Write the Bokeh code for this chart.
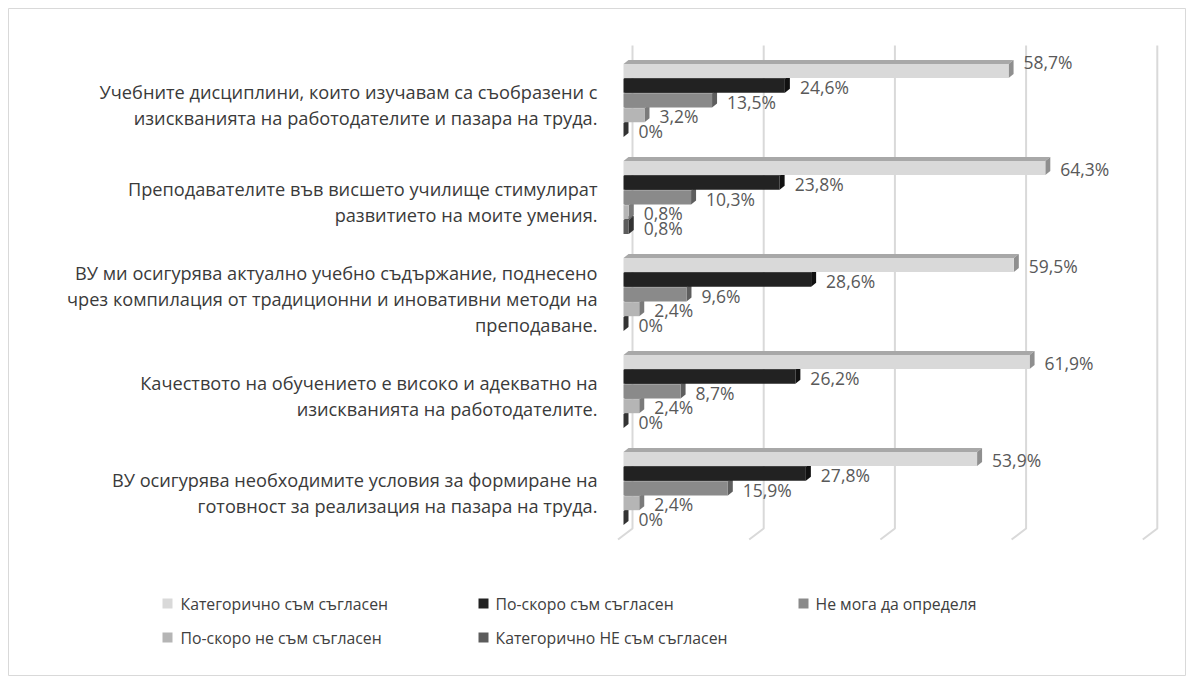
from bokeh.plotting import figure
from bokeh.models import Range1d
from bokeh.embed import file_html
from bokeh.resources import INLINE
from bokeh.core.properties import value

# ---------------- data ----------------
categories = [
    "Учебните дисциплини, които изучавам са съобразени с\nизискванията на работодателите и пазара на труда.",
    "Преподавателите във висшето училище стимулират\nразвитието на моите умения.",
    "ВУ ми осигурява актуално учебно съдържание, поднесено\nчрез компилация от традиционни и иновативни методи на\nпреподаване.",
    "Качеството на обучението е високо и адекватно на\nизискванията на работодателите.",
    "ВУ осигурява необходимите условия за формиране на\nготовност за реализация на пазара на труда.",
]
series_names = [
    "Категорично съм съгласен",
    "По-скоро съм съгласен",
    "Не мога да определя",
    " По-скоро не съм съгласен",
    "Категорично НЕ съм съгласен",
]
strongly_agree = [58.7, 64.3, 59.5, 61.9, 53.9]
rather_agree = [24.6, 23.8, 28.6, 26.2, 27.8]
cannot_say = [13.5, 10.3, 9.6, 8.7, 15.9]
rather_disagree = [3.2, 0.8, 2.4, 2.4, 2.4]
strongly_disagree = [0.0, 0.8, 0.0, 0.0, 0.0]
series_values = [strongly_agree, rather_agree, cannot_say, rather_disagree, strongly_disagree]
series_colors = ["#d9d9d9", "#222222", "#8a8a8a", "#b5b5b5", "#5c5c5c"]
side_colors = ["#8f8f8f", "#111111", "#5e5e5e", "#7a7a7a", "#333333"]
top_colors = ["#a8a8a8", "#151515", "#6e6e6e", "#999999", "#3e3e3e"]
grid_values = [0, 20, 40, 60, 80]

# ---------------- layout ----------------
OFF = 8                  # frame offset inside the canvas
W, H = 1178, 668         # frame size
PX = 6.56                # pixels per percent
ZERO_X = 623             # image x of 0 %
UNIT = 97.0              # pixels per category
CAT0_Y = 100.0           # image y of first category centre
LABEL_NUDGE = {(0, 0): -10.0}   # (series, category) -> vertical pixel nudge of a data label

def dxp(px):
    return px / PX

def dyp(px):
    return px / UNIT

x_start = -(ZERO_X - OFF) / PX
x_end = x_start + W / PX
y_top = (OFF - CAT0_Y) / UNIT
y_bottom = (OFF + H - CAT0_Y) / UNIT

def page_to_data(px, py):
    return (px - ZERO_X) / PX, (py - CAT0_Y) / UNIT

p = figure(width=W + OFF, height=H + OFF, output_backend="svg", toolbar_location=None,
           x_range=Range1d(x_start, x_end), y_range=Range1d(y_bottom, y_top),
           x_axis_location=None, y_axis_location=None,
           min_border_left=OFF, min_border_top=OFF, min_border_right=0, min_border_bottom=0)
p.grid.visible = False
p.outline_line_color = "#d9d9d9"
p.outline_line_width = 1
p.background_fill_color = "white"
p.border_fill_color = "white"

# ---------------- gridlines (3D back wall) ----------------
back_dx = dxp(9)
g_top = dyp(45 - CAT0_Y)
g_bot = dyp(528 - CAT0_Y)
g_foot = dyp(539 - CAT0_Y)
gxs, gys = [], []
for gv in grid_values:
    xb = gv + back_dx
    gxs.append([xb, xb, xb - dxp(14.5)])
    gys.append([g_top, g_bot, g_foot])
p.multi_line(gxs, gys, line_color="#d9d9d9", line_width=2)

# ---------------- 3D bars ----------------
PITCH = 14.7
HALF = 7.0
DEPX = dxp(5)
DEPY = dyp(4)
pxs, pys, pcol = [], [], []
lab_x, lab_y, lab_t = [], [], []
for j in range(len(series_values) - 1, -1, -1):
    vals = series_values[j]
    for i, v in enumerate(vals):
        yc = i + dyp((j - 2) * PITCH)
        yt = yc - dyp(HALF)
        yb = yc + dyp(HALF)
        pxs.append([0, v, v + DEPX, DEPX])
        pys.append([yt, yt, yt - DEPY, yt - DEPY])
        pcol.append(top_colors[j])
        pxs.append([v, v + DEPX, v + DEPX, v])
        pys.append([yt, yt - DEPY, yb - DEPY, yb])
        pcol.append(side_colors[j])
        if v > 0:
            pxs.append([0, v, v, 0])
            pys.append([yt, yt, yb, yb])
            pcol.append(series_colors[j])
        lab_x.append(v + dxp(15))
        lab_y.append(yc + dyp(1 + LABEL_NUDGE.get((j, i), 0.0)))
        lab_t.append(("%g" % v).replace(".", ",") + "%")

p.patches(xs=pxs, ys=pys, fill_color=pcol, line_color=None)

p.text(x=lab_x, y=lab_y, text=lab_t, text_font=value("Open Sans"),
       text_font_size="17.5px", text_color="#595959",
       text_align="left", text_baseline="middle")

# ---------------- category labels ----------------
cx, _ = page_to_data(597, 0)
p.text(x=[cx] * len(categories),
       y=[i + dyp(4.5) for i in range(len(categories))],
       text=categories, text_font=value("Open Sans"), text_font_size="18.2px",
       text_color="#3a3a3a", text_align="right", text_baseline="middle",
       text_line_height=1.07)

# ---------------- legend ----------------
leg_sq = [(167, 603), (483, 603), (803, 603), (167, 637), (483, 637)]
leg_tx = [(180, 603), (495, 603), (815, 603), (180, 637), (495, 637)]
sq = [page_to_data(a, b) for a, b in leg_sq]
tx = [page_to_data(a, b) for a, b in leg_tx]
p.rect(x=[s[0] for s in sq], y=[s[1] for s in sq], width=10, height=10,
       width_units="screen", height_units="screen",
       fill_color=series_colors, line_color=None)
p.text(x=[t[0] for t in tx], y=[t[1] for t in tx], text=series_names,
       text_font=value("Open Sans"), text_font_size="15.8px",
       text_color="#404040", text_align="left", text_baseline="middle")

open("out.html", "w").write(file_html(p, INLINE))
